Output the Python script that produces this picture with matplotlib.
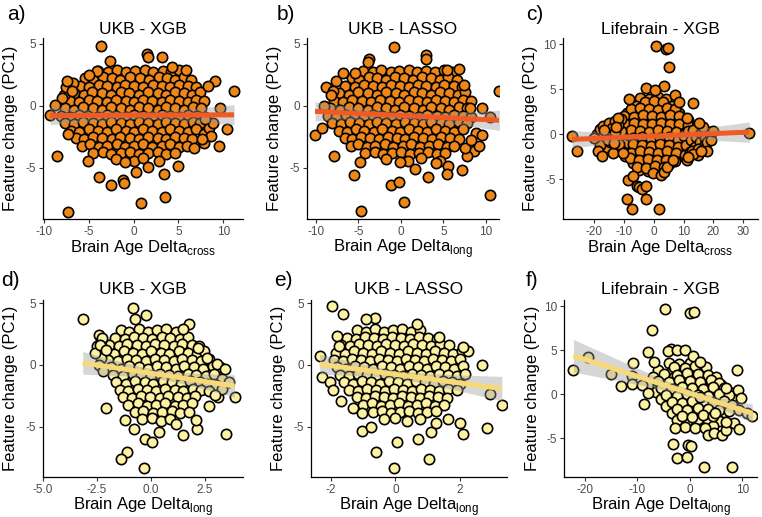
import numpy as np
import matplotlib
matplotlib.use("Agg")
import matplotlib.pyplot as plt

plt.rcParams['font.family'] = ['Liberation Sans', 'DejaVu Sans']
plt.rcParams['mathtext.fontset'] = 'custom'
plt.rcParams['mathtext.rm'] = 'Liberation Sans'
plt.rcParams['axes.unicode_minus'] = False

# ---- data: (brain age delta, feature change PC1) ----
ukb_xgb_cross = [
    (-4.0, 2.8), (-2.9, 2.7), (-1.9, 2.9), (-0.8, 2.7), (0.2, 2.8), (1.3, 2.9), (2.2, 2.7), (3.3, 2.8), (4.2, 2.7), (5.1, 2.9),
    (-5.4, 2.2), (-4.5, 2.1), (-3.4, 2.3), (-2.4, 2.2), (-1.5, 2.1), (-0.4, 2.3), (0.7, 2.2), (1.7, 2.1), (2.8, 2.3), (3.7, 2.2), (4.6, 2.1), (5.6, 2.3), (6.4, 2.1),
    (-6.0, 1.6), (-5.0, 1.5), (-3.9, 1.7), (-3.0, 1.6), (-1.9, 1.5), (-1.0, 1.7), (0.1, 1.6), (1.1, 1.5), (2.2, 1.7), (3.2, 1.6), (4.1, 1.5), (5.1, 1.7), (6.1, 1.6), (7.0, 1.5),
    (-6.6, 1.0), (-5.5, 0.9), (-4.6, 1.1), (-3.5, 1.0), (-2.5, 0.9), (-1.4, 1.1), (-0.5, 1.0), (0.6, 0.9), (1.6, 1.1), (2.7, 1.0), (3.6, 0.9), (4.6, 1.1), (5.6, 1.0), (6.5, 0.9), (7.4, 1.1),
    (-7.1, 0.4), (-6.1, 0.3), (-5.0, 0.5), (-4.1, 0.4), (-3.0, 0.3), (-2.0, 0.5), (-0.9, 0.4), (0.1, 0.3), (1.1, 0.5), (2.1, 0.4), (3.2, 0.3), (4.1, 0.5), (5.1, 0.4), (6.1, 0.3), (7.0, 0.5), (7.9, 0.4),
    (-7.7, -0.2), (-6.6, -0.3), (-5.6, -0.1), (-4.5, -0.2), (-3.5, -0.3), (-2.5, -0.1), (-1.4, -0.2), (-0.4, -0.3), (0.6, -0.1), (1.6, -0.2), (2.7, -0.3), (3.6, -0.1), (4.6, -0.2), (5.6, -0.3), (6.6, -0.1), (7.5, -0.2),
    (-8.1, -0.8), (-7.1, -0.9), (-6.1, -0.7), (-5.1, -0.8), (-4.0, -0.9), (-3.0, -0.7), (-2.0, -0.8), (-0.9, -0.9), (0.1, -0.7), (1.1, -0.8), (2.1, -0.9), (3.2, -0.7), (4.1, -0.8), (5.1, -0.9), (6.1, -0.7), (7.1, -0.8), (8.0, -0.9),
    (-7.6, -1.4), (-6.6, -1.5), (-5.6, -1.3), (-4.5, -1.4), (-3.5, -1.5), (-2.5, -1.3), (-1.4, -1.4), (-0.4, -1.5), (0.6, -1.3), (1.6, -1.4), (2.7, -1.5), (3.6, -1.3), (4.6, -1.4), (5.6, -1.5), (6.6, -1.3), (7.4, -1.4),
    (-7.0, -2.0), (-6.1, -2.1), (-5.0, -1.9), (-4.0, -2.0), (-3.0, -2.1), (-2.0, -1.9), (-0.9, -2.0), (0.1, -2.1), (1.1, -1.9), (2.1, -2.0), (3.2, -2.1), (4.1, -1.9), (5.1, -2.0), (6.1, -2.1), (7.0, -1.9),
    (-6.4, -2.6), (-5.5, -2.7), (-4.5, -2.5), (-3.5, -2.6), (-2.4, -2.7), (-1.5, -2.5), (-0.4, -2.6), (0.6, -2.7), (1.6, -2.5), (2.7, -2.6), (3.6, -2.7), (4.6, -2.5), (5.6, -2.6), (6.5, -2.7),
    (-5.8, -3.2), (-4.9, -3.1), (-3.9, -3.3), (-3.0, -3.2), (-1.9, -3.1), (-1.0, -3.3), (0.1, -3.2), (1.1, -3.1), (2.1, -3.3), (3.2, -3.2), (4.1, -3.1), (5.1, -3.3), (6.0, -3.2),
    (-4.5, -3.8), (-3.4, -3.7), (-2.5, -3.9), (-1.4, -3.8), (-0.4, -3.7), (0.6, -3.9), (1.6, -3.8), (2.7, -3.7), (3.6, -3.9), (4.6, -3.8),
    (-2.0, -4.3), (0.1, -4.4), (1.1, -4.2), (2.8, -4.4),
    (-7.8, 0.9), (-6.8, 1.8), (-7.5, 1.5), (7.8, -2.3), (8.4, -1.8), (7.9, -3.0),
    (-8.0, 0.6), (-7.4, 2.0), (8.6, -2.4), (8.8, -1.4),
    (-3.6, 4.8), (1.5, 4.2), (1.6, 3.9), (3.2, 3.9), (11.2, 1.2), (-8.5, -4.0), (-3.9, -5.7), (-2.5, -6.4), (-1.2, -6.0),
    (-1.1, -6.2), (-7.3, -8.5), (0.8, -7.8), (3.5, -7.3), (3.4, -5.5), (1.6, -4.9), (0.3, -5.3), (5.0, -4.8), (9.5, -3.2),
    (10.4, -1.9), (9.6, -0.2), (8.0, -1.1), (-9.3, -0.7), (-8.8, 0.1), (-7.3, -2.3), (-6.9, 1.2), (9.1, 2.0), (8.3, 1.6),
    (-5.1, -4.4), (-1.0, -4.5), (6.7, -3.4), (7.6, -2.7), (-4.1, 2.8), (-2.6, 3.6), (4.3, 3.1), (5.8, 2.9), (-5.0, 2.5),
]

ukb_lasso_long = [
    (-4.4, 2.8), (-3.3, 2.7), (-2.3, 2.9), (-1.2, 2.7), (-0.2, 2.8), (0.9, 2.9), (1.9, 2.7), (3.0, 2.8), (4.0, 2.7), (5.1, 2.9), (6.0, 2.7),
    (-5.8, 2.2), (-4.9, 2.1), (-3.8, 2.3), (-2.8, 2.2), (-1.7, 2.1), (-0.7, 2.3), (0.4, 2.2), (1.4, 2.1), (2.5, 2.3), (3.5, 2.2), (4.6, 2.1), (5.6, 2.3), (6.6, 2.1),
    (-6.6, 1.6), (-5.4, 1.5), (-4.3, 1.7), (-3.3, 1.6), (-2.2, 1.5), (-1.2, 1.7), (-0.1, 1.6), (0.9, 1.5), (2.0, 1.7), (3.0, 1.6), (4.1, 1.5), (5.1, 1.7), (6.2, 1.6), (7.2, 1.5),
    (-7.3, 1.0), (-6.1, 0.9), (-5.0, 1.1), (-3.9, 1.0), (-2.8, 0.9), (-1.7, 1.1), (-0.6, 1.0), (0.4, 0.9), (1.5, 1.1), (2.5, 1.0), (3.6, 0.9), (4.6, 1.1), (5.7, 1.0), (6.7, 0.9), (7.6, 1.1),
    (-7.9, 0.4), (-6.8, 0.3), (-5.7, 0.5), (-4.6, 0.4), (-3.5, 0.3), (-2.4, 0.5), (-1.3, 0.4), (-0.2, 0.3), (0.9, 0.5), (2.0, 0.4), (3.1, 0.3), (4.1, 0.5), (5.2, 0.4), (6.2, 0.3), (7.3, 0.5), (8.2, 0.4),
    (-8.3, -0.2), (-7.2, -0.3), (-6.1, -0.1), (-5.0, -0.2), (-3.9, -0.3), (-2.8, -0.1), (-1.7, -0.2), (-0.7, -0.3), (0.4, -0.1), (1.5, -0.2), (2.6, -0.3), (3.6, -0.1), (4.7, -0.2), (5.7, -0.3), (6.8, -0.1), (7.8, -0.2),
    (-8.6, -0.8), (-7.6, -0.9), (-6.5, -0.7), (-5.4, -0.8), (-4.3, -0.9), (-3.3, -0.7), (-2.2, -0.8), (-1.1, -0.9), (-0.1, -0.7), (1.0, -0.8), (2.1, -0.9), (3.1, -0.7), (4.2, -0.8), (5.2, -0.9), (6.3, -0.7), (7.3, -0.8), (8.2, -0.9),
    (-8.1, -1.4), (-7.1, -1.5), (-6.0, -1.3), (-4.9, -1.4), (-3.8, -1.5), (-2.8, -1.3), (-1.7, -1.4), (-0.6, -1.5), (0.5, -1.3), (1.5, -1.4), (2.6, -1.5), (3.6, -1.3), (4.7, -1.4), (5.7, -1.5), (6.8, -1.3), (7.8, -1.4),
    (-7.3, -2.0), (-6.4, -2.1), (-5.3, -1.9), (-4.3, -2.0), (-3.2, -2.1), (-2.2, -1.9), (-1.1, -2.0), (-0.1, -2.1), (1.0, -1.9), (2.0, -2.0), (3.1, -2.1), (4.1, -1.9), (5.2, -2.0), (6.2, -2.1), (7.3, -1.9),
    (-6.6, -2.6), (-5.7, -2.7), (-4.7, -2.5), (-3.6, -2.6), (-2.6, -2.7), (-1.5, -2.5), (-0.5, -2.6), (0.5, -2.7), (1.6, -2.5), (2.6, -2.6), (3.7, -2.7), (4.7, -2.5), (5.8, -2.6), (6.8, -2.7),
    (-5.9, -3.2), (-5.0, -3.1), (-4.0, -3.3), (-3.0, -3.2), (-1.9, -3.1), (-0.9, -3.3), (0.2, -3.2), (1.2, -3.1), (2.3, -3.3), (3.3, -3.2), (4.4, -3.1), (5.4, -3.3), (6.3, -3.2),
    (-4.2, -3.8), (-3.1, -3.7), (-2.1, -3.9), (-1.0, -3.8), (0.0, -3.7), (1.1, -3.9), (2.1, -3.8), (3.2, -3.7), (4.2, -3.9), (5.2, -3.8),
    (-1.8, -4.3), (0.8, -4.4), (2.4, -4.2), (4.6, -4.4),
    (-8.8, 1.5), (-7.6, 2.0), (-6.8, 2.6), (-8.0, 1.2), (8.6, -3.6), (7.8, -4.0), (8.9, -2.2), (7.6, -3.4),
    (-0.8, 4.7), (3.0, 4.1), (2.9, 3.8), (-3.8, 3.8), (-3.9, 3.5), (-5.4, 2.6), (11.6, 1.2), (-10.1, -2.35), (-9.3, -1.8),
    (-9.1, 0.0), (-8.2, 0.9), (-7.9, -4.0), (-5.5, -5.6), (-4.8, -4.5), (-4.75, -8.45), (-1.2, -6.4), (-0.2, -6.1), (0.35, -7.75),
    (10.5, -7.2), (10.5, -0.9), (9.6, -0.15), (9.5, -2.35), (9.2, -3.2), (8.2, -2.75), (3.2, -5.7), (5.5, -4.8), (5.4, -5.45),
    (7.2, -5.2), (4.1, -4.6), (1.7, -5.05), (-0.15, -4.5), (6.9, 2.95), (5.4, 2.9), (7.4, 1.65), (8.1, -0.15),
]

lifebrain_xgb_cross = [
    (-4.5, 4.0), (-1.5, 3.9), (1.5, 4.1), (4.0, 3.9),
    (-6.0, 3.2), (-3.0, 3.1), (0.0, 3.3), (3.0, 3.2), (6.0, 3.1),
    (-9.0, 2.4), (-6.5, 2.3), (-3.5, 2.5), (-0.5, 2.4), (2.5, 2.3), (5.5, 2.5), (8.5, 2.4),
    (-11.0, 1.6), (-8.0, 1.5), (-5.0, 1.7), (-2.0, 1.6), (1.0, 1.5), (4.0, 1.7), (7.0, 1.6), (10.0, 1.5),
    (-13.5, 0.8), (-10.5, 0.7), (-7.5, 0.9), (-4.5, 0.8), (-1.5, 0.7), (1.5, 0.9), (4.5, 0.8), (7.5, 0.7), (10.5, 0.9), (13.5, 0.8),
    (-15.0, 0.0), (-12.0, -0.1), (-9.0, 0.1), (-6.0, 0.0), (-3.0, -0.1), (0.0, 0.1), (3.0, 0.0), (6.0, -0.1), (9.0, 0.1), (12.0, 0.0), (15.0, -0.1), (17.5, 0.2),
    (-14.0, -0.8), (-11.0, -0.9), (-8.0, -0.7), (-5.0, -0.8), (-2.0, -0.9), (1.0, -0.7), (4.0, -0.8), (7.0, -0.9), (10.0, -0.7), (13.0, -0.8),
    (-12.0, -1.6), (-9.0, -1.7), (-6.0, -1.5), (-3.0, -1.6), (0.0, -1.7), (3.0, -1.5), (6.0, -1.6), (9.0, -1.7), (12.0, -1.5),
    (-9.5, -2.4), (-6.5, -2.5), (-3.5, -2.3), (-0.5, -2.4), (2.5, -2.5), (5.5, -2.3), (8.5, -2.4),
    (-7.0, -3.2), (-4.0, -3.3), (-1.0, -3.1), (2.0, -3.2), (5.0, -3.3),
    (-5.0, -4.0), (-2.0, -4.1), (1.0, -3.9),
    (-3.0, 3.6), (0.0, 3.7), (3.0, 3.6),
    (-7.5, 2.8), (-4.5, 2.9), (-1.5, 2.8), (1.5, 2.7), (4.5, 2.9), (7.0, 2.8),
    (-10.0, 2.0), (-6.5, 1.9), (-3.5, 2.1), (-0.5, 2.0), (2.5, 1.9), (5.5, 2.1), (8.5, 2.0), (11.5, 1.6),
    (-12.5, 1.4), (-9.5, 1.1), (-6.5, 1.3), (-3.5, 1.2), (-0.5, 1.1), (2.5, 1.3), (5.5, 1.2), (8.5, 1.1), (11.5, 1.0), (14.5, 0.9),
    (-14.0, 0.6), (-10.5, 0.3), (-7.5, 0.5), (-4.5, 0.4), (-1.5, 0.3), (1.5, 0.5), (4.5, 0.4), (7.5, 0.3), (10.5, 0.2), (13.5, 0.1), (16.5, -0.2),
    (-16.0, 0.1), (-13.0, -0.1), (-10.0, -0.4), (-7.0, -0.4), (-4.0, -0.3), (-1.0, -0.5), (2.0, -0.4), (5.0, -0.3), (8.0, -0.6), (11.0, -0.7), (14.0, -0.8),
    (-13.0, -0.9), (-10.0, -1.1), (-7.0, -1.1), (-4.0, -1.2), (-1.0, -1.3), (2.0, -1.1), (5.0, -1.2), (8.0, -1.4), (11.0, -1.5),
    (-10.5, -1.8), (-7.5, -2.1), (-4.5, -1.9), (-1.5, -2.0), (1.5, -2.1), (4.5, -1.9), (7.5, -2.1), (10.5, -2.3),
    (-8.0, -2.6), (-5.0, -2.9), (-2.0, -2.7), (1.0, -2.8), (4.0, -2.9), (7.0, -3.0),
    (-5.5, -3.6), (-2.5, -3.7), (0.5, -3.5), (3.5, -3.6),
    (-19.0, 0.0), (-18.0, 0.6), (-17.5, -0.4), (-16.8, 0.9), (-16.0, -1.4), (-15.5, 0.4), (-14.8, 1.3), (-14.5, -0.9),
    (-13.8, 0.7), (-13.5, -2.1), (-12.8, 1.5), (-12.2, -0.2), (-11.5, -1.1), (-11.0, 1.7), (-10.8, 0.4), (-10.2, -2.1),
    (-17.8, -1.2), (-15.0, -0.2), (-13.0, 0.3), (-11.8, 1.0),
    (10.2, -0.2), (10.8, -1.2), (11.5, 0.4), (12.0, -2.0), (12.5, -0.6), (13.0, 0.5), (13.8, -1.4), (14.2, -0.3),
    (14.8, -2.3), (15.5, -0.9), (16.0, 0.2), (16.8, -1.3), (17.2, -0.4), (18.0, -0.9), (18.6, 0.3), (19.2, -0.6),
    (11.0, -2.8), (12.8, -1.8), (15.0, -1.6), (17.8, -1.8),
    (0.9, 9.85), (4.0, 9.45), (4.9, 9.55), (5.1, 7.5), (3.35, 5.4), (-2.7, 5.1), (0.6, 4.9), (-8.2, 3.9), (7.3, 4.4),
    (8.6, 3.6), (13.3, 3.5), (32.0, 0.1), (-27.3, -0.2), (-25.7, -1.9), (-20.1, -0.45), (-18.7, -1.9), (-17.2, -2.4),
    (19.9, 0.4), (16.6, 0.85), (15.2, 1.3), (13.3, -2.2), (16.0, -1.9), (-8.4, -5.1), (-6.8, -4.6), (-8.8, -7.2),
    (-7.1, -8.3), (-5.4, -5.7), (-5.0, -5.8), (-4.0, -6.1), (-2.4, -5.7), (-2.6, -7.2), (1.7, -8.3), (-0.3, -4.3),
    (2.5, -4.5), (3.4, -4.15), (4.4, -3.6), (6.6, -2.85), (11.6, -2.5), (11.1, 1.8), (-12.0, 1.8), (-12.7, 0.85),
    (-16.5, 0.5), (-15.4, -0.6), (-13.2, -1.0),
]

ukb_xgb_long = [
    (-1.4, 2.8), (-1.0, 2.7), (-0.55, 2.9), (-0.15, 2.7), (0.3, 2.8), (0.7, 2.9), (1.15, 2.7),
    (-1.65, 2.2), (-1.2, 2.1), (-0.8, 2.3), (-0.35, 2.2), (0.05, 2.1), (0.5, 2.3), (0.9, 2.2), (1.35, 2.1), (1.7, 2.3),
    (-1.95, 1.6), (-1.5, 1.5), (-1.1, 1.7), (-0.65, 1.6), (-0.25, 1.5), (0.2, 1.7), (0.6, 1.6), (1.05, 1.5), (1.45, 1.7), (1.9, 1.6), (2.2, 1.5),
    (-2.1, 1.0), (-1.7, 0.9), (-1.25, 1.1), (-0.85, 1.0), (-0.4, 0.9), (0.0, 1.1), (0.45, 1.0), (0.85, 0.9), (1.3, 1.1), (1.7, 1.0), (2.15, 0.9), (2.45, 1.1),
    (-2.0, 0.4), (-1.55, 0.3), (-1.1, 0.5), (-0.7, 0.4), (-0.25, 0.3), (0.2, 0.5), (0.6, 0.4), (1.05, 0.3), (1.45, 0.5), (1.9, 0.4), (2.3, 0.3), (2.7, 0.5),
    (-1.85, -0.2), (-1.4, -0.3), (-1.0, -0.1), (-0.55, -0.2), (-0.15, -0.3), (0.3, -0.1), (0.7, -0.2), (1.15, -0.3), (1.55, -0.1), (2.0, -0.2), (2.4, -0.3), (2.85, -0.1), (3.2, -0.2),
    (-1.75, -0.8), (-1.3, -0.9), (-0.85, -0.7), (-0.45, -0.8), (0.0, -0.9), (0.4, -0.7), (0.85, -0.8), (1.25, -0.9), (1.7, -0.7), (2.1, -0.8), (2.55, -0.9), (2.9, -0.7),
    (-1.6, -1.4), (-1.15, -1.5), (-0.75, -1.3), (-0.3, -1.4), (0.1, -1.5), (0.55, -1.3), (0.95, -1.4), (1.4, -1.5), (1.8, -1.3), (2.25, -1.4), (2.6, -1.5),
    (-1.45, -2.0), (-1.05, -2.1), (-0.6, -1.9), (-0.2, -2.0), (0.25, -2.1), (0.65, -1.9), (1.1, -2.0), (1.5, -2.1), (1.95, -1.9), (2.3, -2.0),
    (-1.3, -2.6), (-0.9, -2.7), (-0.45, -2.5), (-0.05, -2.6), (0.4, -2.7), (0.8, -2.5), (1.25, -2.6), (1.65, -2.7), (2.05, -2.5),
    (-1.05, -3.2), (-0.6, -3.1), (-0.2, -3.3), (0.25, -3.2), (0.65, -3.1), (1.1, -3.3), (1.5, -3.2), (1.9, -3.1),
    (-0.75, -3.8), (-0.35, -3.7), (0.1, -3.9), (0.5, -3.8), (0.95, -3.7), (1.35, -3.9), (1.75, -3.8),
    (-0.4, -4.4), (0.05, -4.3), (0.45, -4.5), (0.9, -4.4),
    (3.3, -1.1), (3.0, -1.6), (2.7, -2.1), (3.1, -2.6), (-2.3, 0.6), (-2.4, 0.0), (-2.2, -0.5), (-2.5, 1.5),
    (-2.4, 2.4), (-2.6, 1.0), (-2.3, 1.9), (3.3, -1.9), (3.6, -1.4),
    (-3.16, 3.74), (-0.83, 4.62), (-0.25, 4.03), (1.77, 3.33), (-0.74, 3.74), (-2.25, 2.2), (-2.36, 1.6), (-2.08, 1.2),
    (-2.1, -3.44), (-1.2, -4.46), (-0.77, -5.16), (-0.3, -6.0), (0.03, -6.2), (-1.13, -7.07), (-1.4, -7.6), (-0.32, -8.33),
    (3.47, -5.6), (3.87, -2.55), (2.7, -3.3), (2.95, -2.45), (3.04, 0.05), (3.43, -0.35), (2.13, -5.2), (2.08, -4.46),
    (1.47, -5.65), (1.14, -4.8), (0.39, -5.4), (2.19, 1.4), (2.58, 0.6), (1.5, 2.9),
]

ukb_lasso_long2 = [
    (-1.2, 2.8), (-0.92, 2.7), (-0.64, 2.9), (-0.36, 2.7), (-0.08, 2.8), (0.2, 2.9), (0.48, 2.7), (0.76, 2.8),
    (-1.5, 2.2), (-1.22, 2.1), (-0.94, 2.3), (-0.66, 2.2), (-0.38, 2.1), (-0.1, 2.3), (0.18, 2.2), (0.46, 2.1), (0.74, 2.3), (1.02, 2.2), (1.3, 2.1),
    (-1.7, 1.6), (-1.42, 1.5), (-1.14, 1.7), (-0.86, 1.6), (-0.58, 1.5), (-0.3, 1.7), (-0.02, 1.6), (0.26, 1.5), (0.54, 1.7), (0.82, 1.6), (1.1, 1.5), (1.38, 1.7), (1.66, 1.6),
    (-1.85, 1.0), (-1.57, 0.9), (-1.29, 1.1), (-1.01, 1.0), (-0.73, 0.9), (-0.45, 1.1), (-0.17, 1.0), (0.11, 0.9), (0.39, 1.1), (0.67, 1.0), (0.95, 0.9), (1.23, 1.1), (1.51, 1.0), (1.79, 0.9), (2.05, 1.1),
    (-1.92, 0.4), (-1.64, 0.3), (-1.36, 0.5), (-1.08, 0.4), (-0.8, 0.3), (-0.52, 0.5), (-0.24, 0.4), (0.04, 0.3), (0.32, 0.5), (0.6, 0.4), (0.88, 0.3), (1.16, 0.5), (1.44, 0.4), (1.72, 0.3), (2.0, 0.5),
    (-1.82, -0.2), (-1.54, -0.3), (-1.26, -0.1), (-0.98, -0.2), (-0.7, -0.3), (-0.42, -0.1), (-0.14, -0.2), (0.14, -0.3), (0.42, -0.1), (0.7, -0.2), (0.98, -0.3), (1.26, -0.1), (1.54, -0.2), (1.82, -0.3), (2.1, -0.1),
    (-1.72, -0.8), (-1.44, -0.9), (-1.16, -0.7), (-0.88, -0.8), (-0.6, -0.9), (-0.32, -0.7), (-0.04, -0.8), (0.24, -0.9), (0.52, -0.7), (0.8, -0.8), (1.08, -0.9), (1.36, -0.7), (1.64, -0.8), (1.92, -0.9), (2.15, -0.7),
    (-1.6, -1.4), (-1.32, -1.5), (-1.04, -1.3), (-0.76, -1.4), (-0.48, -1.5), (-0.2, -1.3), (0.08, -1.4), (0.36, -1.5), (0.64, -1.3), (0.92, -1.4), (1.2, -1.5), (1.48, -1.3), (1.76, -1.4), (2.0, -1.5),
    (-1.45, -2.0), (-1.17, -2.1), (-0.89, -1.9), (-0.61, -2.0), (-0.33, -2.1), (-0.05, -1.9), (0.23, -2.0), (0.51, -2.1), (0.79, -1.9), (1.07, -2.0), (1.35, -2.1), (1.63, -1.9), (1.9, -2.0),
    (-1.2, -2.6), (-0.92, -2.7), (-0.64, -2.5), (-0.36, -2.6), (-0.08, -2.7), (0.2, -2.5), (0.48, -2.6), (0.76, -2.7), (1.04, -2.5), (1.32, -2.6), (1.6, -2.7),
    (-1.0, -3.2), (-0.72, -3.1), (-0.44, -3.3), (-0.16, -3.2), (0.12, -3.1), (0.4, -3.3), (0.68, -3.2), (0.96, -3.1), (1.24, -3.3), (1.52, -3.2),
    (-0.7, -3.8), (-0.42, -3.7), (-0.14, -3.9), (0.14, -3.8), (0.42, -3.7), (0.7, -3.9), (0.98, -3.8), (1.26, -3.7),
    (-0.35, -4.4), (0.0, -4.3), (0.35, -4.5), (0.75, -4.4),
    (-1.96, 4.73), (-1.62, 4.09), (-2.35, 0.7), (-2.27, -1.0), (-2.03, -1.35), (-1.94, -2.0), (-1.68, -2.9), (-1.32, -3.44),
    (-1.03, -3.9), (-1.03, -5.3), (-0.75, -5.05), (-0.59, -7.0), (0.06, -6.2), (-0.04, -8.3), (1.05, -7.6), (1.1, -5.45),
    (0.7, -6.0), (1.25, -4.65), (1.62, -4.4), (1.99, -4.7), (2.08, -5.6), (2.84, -5.1), (2.93, -2.37), (3.3, -3.25),
    (2.67, 0.0), (2.24, 1.13), (2.11, 1.45), (1.36, 2.26), (0.68, 3.28), (-0.64, 3.82), (-0.92, 3.74), (-1.82, 2.31), (-1.74, 1.53),
]

lifebrain_xgb_long = [
    (-4.0, 3.5), (-2.0, 3.4), (0.0, 3.6), (2.0, 3.5),
    (-6.0, 2.7), (-3.5, 2.6), (-1.5, 2.8), (0.5, 2.7), (2.5, 2.6),
    (-7.0, 1.9), (-5.0, 1.8), (-3.0, 2.0), (-1.0, 1.9), (1.0, 1.8), (3.0, 2.0),
    (-8.0, 1.1), (-6.0, 1.0), (-4.0, 1.2), (-2.0, 1.1), (0.0, 1.0), (2.0, 1.2), (4.0, 1.1), (6.0, 1.0),
    (-6.5, 0.3), (-4.5, 0.2), (-2.5, 0.4), (-0.5, 0.3), (1.5, 0.2), (3.5, 0.4), (5.5, 0.3), (7.5, 0.2),
    (-5.5, -0.5), (-3.5, -0.6), (-1.5, -0.4), (0.5, -0.5), (2.5, -0.6), (4.5, -0.4), (6.5, -0.5), (8.5, -0.6),
    (-4.5, -1.3), (-2.5, -1.4), (-0.5, -1.2), (1.5, -1.3), (3.5, -1.4), (5.5, -1.2), (7.5, -1.3),
    (-3.5, -2.1), (-1.5, -2.2), (0.5, -2.0), (2.5, -2.1), (4.5, -2.2), (6.5, -2.0),
    (-2.5, -2.9), (-0.5, -3.0), (1.5, -2.8), (3.5, -2.9), (5.5, -3.0),
    (-1.0, -3.7), (1.0, -3.8), (4.5, -3.6),
    (-3.0, 3.1), (-1.0, 3.0), (1.0, 3.2), (3.0, 3.1),
    (-5.0, 2.3), (-2.5, 2.2), (-0.5, 2.4), (1.5, 2.3), (3.5, 2.2), (5.0, 2.0),
    (-6.0, 1.5), (-4.0, 1.4), (-2.0, 1.6), (0.0, 1.5), (2.0, 1.4), (4.0, 1.6), (5.5, 1.3),
    (-5.5, 0.7), (-3.5, 0.6), (-1.5, 0.8), (0.5, 0.7), (2.5, 0.6), (4.5, 0.8), (6.5, 0.7),
    (-4.5, -0.1), (-2.5, -0.2), (-0.5, 0.0), (1.5, -0.1), (3.5, -0.2), (5.5, 0.0), (7.5, -0.1),
    (-3.5, -0.9), (-1.5, -1.0), (0.5, -0.8), (2.5, -0.9), (4.5, -1.0), (6.5, -0.8), (8.0, -1.2),
    (-2.5, -1.7), (-0.5, -1.8), (1.5, -1.6), (3.5, -1.7), (5.5, -1.8), (7.5, -1.9),
    (-1.5, -2.5), (0.5, -2.6), (2.5, -2.4), (4.5, -2.5),
    (-22.2, 2.7), (-19.4, 4.26), (-15.05, 2.33), (-13.2, 0.96), (-10.9, 3.56), (-11.0, 2.04), (-11.0, 1.15), (-9.2, 1.04),
    (-8.8, -1.07), (-7.9, 0.1), (-7.9, 4.74), (-6.86, 3.7), (-7.2, 7.26), (-4.76, 9.63), (-3.6, 5.19), (-4.25, 4.93),
    (-2.54, 5.0), (-0.95, 5.0), (0.0, 9.19), (0.83, 9.37), (0.63, 4.37), (1.9, 3.63), (-2.86, -3.78), (-3.3, -5.63),
    (-2.54, -7.19), (-0.5, -7.15), (-0.32, -5.81), (0.19, -5.93), (2.73, -8.22), (7.94, -8.22), (2.86, -3.78), (3.37, -4.63),
    (4.57, -4.44), (6.16, -4.63), (6.86, -4.07), (8.44, -3.3), (9.4, -3.96), (9.08, 2.7), (6.98, 0.67), (9.2, 0.48),
    (9.33, -1.74), (10.9, -2.11), (11.9, -2.48), (9.84, -0.44), (6.98, -3.2), (4.76, -2.1), (1.9, -0.26),
]

titles = ['UKB - XGB', 'UKB - LASSO', 'Lifebrain - XGB', 'UKB - XGB', 'UKB - LASSO', 'Lifebrain - XGB']
letters = ['a)', 'b)', 'c)', 'd)', 'e)', 'f)']
xlabels = [r'Brain Age Delta$_{\mathregular{cross}}$', r'Brain Age Delta$_{\mathregular{long}}$',
           r'Brain Age Delta$_{\mathregular{cross}}$', r'Brain Age Delta$_{\mathregular{long}}$',
           r'Brain Age Delta$_{\mathregular{long}}$', r'Brain Age Delta$_{\mathregular{long}}$']
xticks = [[-10, -5, 0, 5, 10], [-10, -5, 0, 5, 10], [-20, -10, 0, 10, 20, 30],
          [-5.0, -2.5, 0.0, 2.5], [-2, 0, 2], [-20, -10, 0, 10]]
yticks = [[-5, 0, 5], [-5, 0, 5], [-5, 0, 5, 10], [-5, 0, 5], [-5, 0, 5], [-5, 0, 5, 10]]
datasets = [ukb_xgb_cross, ukb_lasso_long, lifebrain_xgb_cross, ukb_xgb_long, ukb_lasso_long2, lifebrain_xgb_long]

W, H = 762, 517
fig = plt.figure(figsize=(W / 100, H / 100), dpi=100)

# panel boxes in pixels: left, right, top, bottom
boxes = [(43, 243, 38, 219), (307, 499, 38, 219), (563, 758, 38, 219),
         (43, 243, 300, 477), (311, 507, 300, 477), (564, 757, 300, 477)]
xlims = [(-10.1, 12.2), (-11.05, 11.55), (-30.3, 34.9), (-5.0, 4.26), (-2.62, 3.46), (-24.0, 12.8)]
ylims = [(-9.1, 5.45), (-9.1, 5.45), (-9.4, 10.7), (-9.05, 5.25), (-9.05, 5.25), (-9.4, 10.7)]
letter_pos = [(16, 14), (286, 15), (535, 15), (10, 280), (283, 280), (532, 280)]
fills = ['#EE8618'] * 3 + ['#FDF1A2'] * 3
lines = ['#F05A24'] * 3 + ['#F7D978'] * 3

for i in range(6):
    l, r, t, b = boxes[i]
    ax = fig.add_axes([l / W, 1 - b / H, (r - l) / W, (b - t) / H])
    x, y = np.array(datasets[i]).T
    ax.scatter(x, y, s=55, c=fills[i], edgecolors='black', linewidths=1.2, zorder=2)

    # linear fit with 95% band, like geom_smooth(method='lm')
    slope, icpt = np.polyfit(x, y, 1)
    xs = np.linspace(x.min(), x.max(), 100)
    yhat = icpt + slope * xs
    n = len(x)
    s = np.sqrt(np.sum((y - (icpt + slope * x)) ** 2) / (n - 2))
    se = s * np.sqrt(1 / n + (xs - x.mean()) ** 2 / np.sum((x - x.mean()) ** 2))
    ax.fill_between(xs, yhat - 1.97 * se, yhat + 1.97 * se, color='#999999', alpha=0.4, lw=0, zorder=3)
    ax.plot(xs, yhat, color=lines[i], lw=3.6, zorder=4, solid_capstyle='butt')

    ax.set_xlim(xlims[i])
    ax.set_ylim(ylims[i])
    ax.set_xticks(xticks[i])
    ax.set_yticks(yticks[i])
    if i == 3:
        ax.set_xticklabels(['%.1f' % v for v in xticks[i]])
    ax.tick_params(labelsize=8.5, labelcolor='#4D4D4D', color='#333333', length=3, width=0.8, pad=2)
    for side in ['top', 'right']:
        ax.spines[side].set_visible(False)
    for side in ['left', 'bottom']:
        ax.spines[side].set_linewidth(0.9)

    cx = (l + r) / 2
    fig.text(cx / W, 1 - 30 / H if i < 3 else 1 - 290 / H, titles[i], ha='center', va='center', fontsize=12.5)
    fig.text(cx / W, 1 - (b + 33) / H, xlabels[i], ha='center', va='baseline', fontsize=12)
    fig.text((l - 32) / W, 1 - ((t + b) / 2) / H, 'Feature change (PC1)', rotation=90,
             ha='center', va='center', fontsize=12)
    fig.text(letter_pos[i][0] / W, 1 - letter_pos[i][1] / H, letters[i], ha='center', va='center', fontsize=15)

fig.savefig('out.png', dpi=100)
